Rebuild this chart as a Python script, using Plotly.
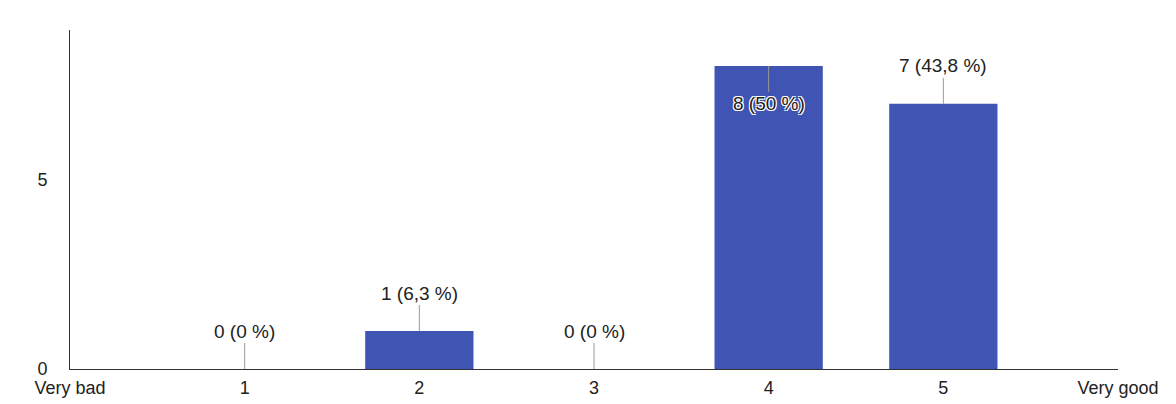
import plotly.graph_objects as go

# categories on the scale, with end labels
tick_pos = [0, 1, 2, 3, 4, 5, 6]
tick_text = ["Very bad", "1", "2", "3", "4", "5", "Very good"]

ratings = [1, 2, 3, 4, 5]
counts = [0, 1, 0, 8, 7]
labels = ["0 (0 %)", "1 (6,3 %)", "0 (0 %)", "8 (50 %)", "7 (43,8 %)"]

halo = "1px 1px 0 white, -1px -1px 0 white, 1px -1px 0 white, -1px 1px 0 white"

fig = go.Figure(go.Bar(x=ratings, y=counts, width=0.62,
                       marker=dict(color="#3F54B3", line=dict(width=0)),
                       hoverinfo="skip"))

for x, y, t in zip(ratings, counts, labels):
    # tallest bar gets its label pushed down inside the bar
    inside = y == max(counts)
    fig.add_annotation(x=x, y=y, text=t, showarrow=True, arrowhead=0,
                       arrowwidth=1, arrowcolor="#999999", standoff=0,
                       ax=0, ay=38 if inside else -38,
                       font=dict(size=19, color="#222222",
                                 shadow=halo if inside else "none"))

fig.update_layout(
    width=1176, height=404,
    margin=dict(l=62, r=66, t=22, b=43),
    plot_bgcolor="white", paper_bgcolor="white",
    font=dict(family="Liberation Sans, Arial, sans-serif", size=18, color="#222222"),
    showlegend=False,
    xaxis=dict(range=[0, 6], tickvals=tick_pos, ticktext=tick_text,
               showgrid=False, zeroline=False, showline=True, automargin=False,
               linecolor="#333333", linewidth=1, ticks="", ticklabelstandoff=2),
    yaxis=dict(range=[0, 8.95], tickvals=[0, 5], showgrid=False, automargin=False,
               zeroline=False, showline=True, linecolor="#333333",
               linewidth=1, ticks="", ticklabelstandoff=18),
)

fig.write_html("out.html")
